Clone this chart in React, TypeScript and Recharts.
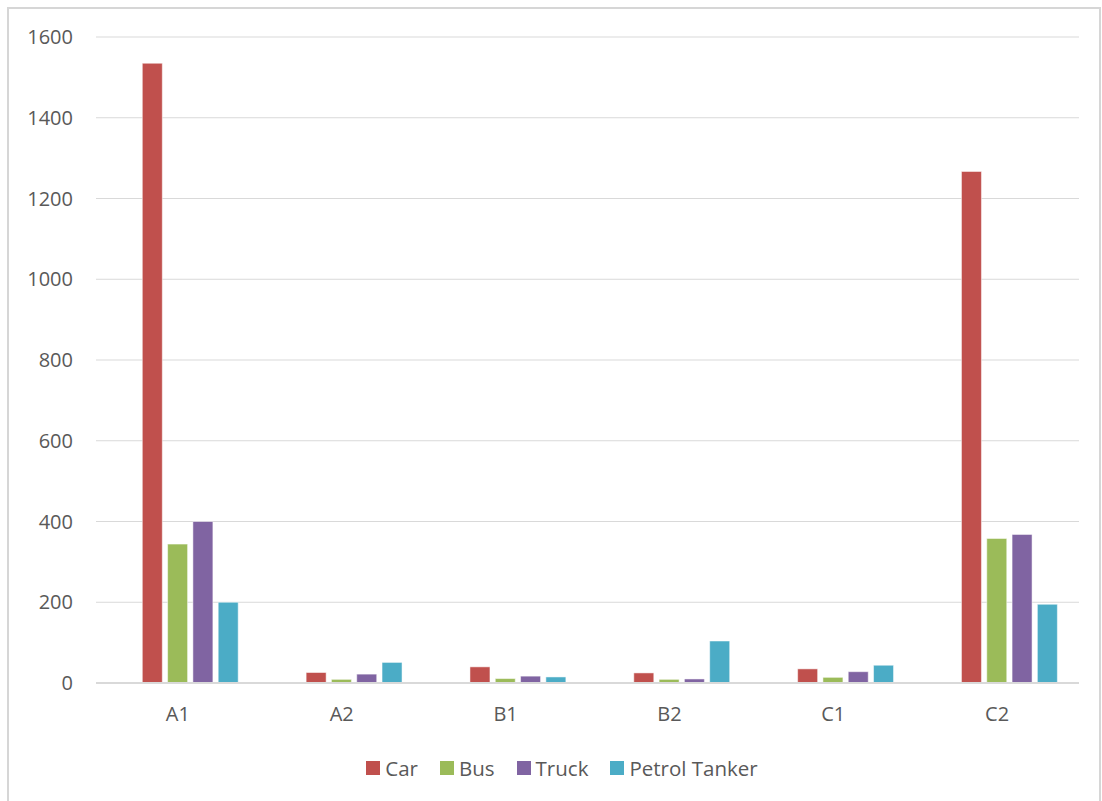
import React from "react";
import { BarChart, Bar, XAxis, YAxis, CartesianGrid } from "recharts";

const categories = ["A1", "A2", "B1", "B2", "C1", "C2"];
const car = [1535, 26, 40, 25, 35, 1267];
const bus = [344, 9, 11, 9, 14, 358];
const truck = [400, 22, 17, 10, 28, 368];
const petrolTanker = [200, 51, 15, 104, 44, 195];
const yTicks = [0, 200, 400, 600, 800, 1000, 1200, 1400, 1600];

const seriesNames = ["Car", "Bus", "Truck", "Petrol Tanker"];
const seriesKeys = ["car", "bus", "truck", "tanker"];
const seriesColors = ["#C0504D", "#9BBB59", "#8064A2", "#4BACC6"];

const data = categories.map((c, i) => ({
  name: c,
  car: car[i],
  bus: bus[i],
  truck: truck[i],
  tanker: petrolTanker[i],
}));

const FONT = "'Open Sans', 'Liberation Sans', sans-serif";
const TEXT = "#595959";

const YTick = (props: any) => {
  const { x, y, payload } = props;
  return (
    <text x={x} y={y} dy={7} textAnchor="end" fill={TEXT} style={{ fontSize: 20, fontFamily: FONT }}>
      {payload.value}
    </text>
  );
};

const XTick = (props: any) => {
  const { x, y, payload } = props;
  return (
    <text x={x} y={y} dy={16} textAnchor="middle" fill={TEXT} style={{ fontSize: 20, fontFamily: FONT }}>
      {payload.value}
    </text>
  );
};

export default function App() {
  return (
    <div
      style={{
        position: "absolute",
        left: 7,
        top: 7,
        width: 1094,
        height: 802,
        boxSizing: "border-box",
        borderLeft: "2px solid #d6d6d6",
        borderTop: "2px solid #d6d6d6",
        borderRight: "2px solid #d6d6d6",
        background: "#fff",
        fontFamily: FONT,
      }}
    >
      <BarChart
        width={1090}
        height={798}
        data={data}
        margin={{ top: 28, right: 20, left: 0, bottom: 64 }}
        barSize={20}
        barGap={5.3}
      >
        <CartesianGrid vertical={false} stroke="#d9d9d9" strokeWidth={1} />
        <XAxis
          dataKey="name"
          height={60}
          tickLine={false}
          tickSize={0}
          tickMargin={22}
          axisLine={{ stroke: "#d9d9d9", strokeWidth: 2 }}
          tick={<XTick />}
        />
        <YAxis
          width={87}
          domain={[0, 1600]}
          ticks={yTicks}
          interval={0}
          tickLine={false}
          axisLine={false}
          tickSize={0}
          tickMargin={23}
          tick={<YTick />}
        />
        <Bar dataKey="blank" legendType="none" isAnimationActive={false} fill="transparent" />
        {seriesKeys.map((k, i) => (
          <Bar
            key={k}
            dataKey={k}
            name={seriesNames[i]}
            fill={seriesColors[i]}
            stroke="rgba(255,255,255,0.5)"
            strokeWidth={1}
            isAnimationActive={false}
          />
        ))}
      </BarChart>
      <div
        style={{
          position: "absolute",
          left: 0,
          right: 0,
          top: 745,
          display: "flex",
          justifyContent: "center",
          alignItems: "center",
          fontSize: 20.5,
          color: TEXT,
          fontFamily: FONT,
          paddingLeft: 38,
        }}
      >
        {seriesNames.map((n, i) => (
          <div key={n} style={{ display: "flex", alignItems: "center", marginRight: 22 }}>
            <div style={{ width: 14, height: 14, background: seriesColors[i], marginRight: 5 }} />
            <span>{n}</span>
          </div>
        ))}
      </div>
    </div>
  );
}
